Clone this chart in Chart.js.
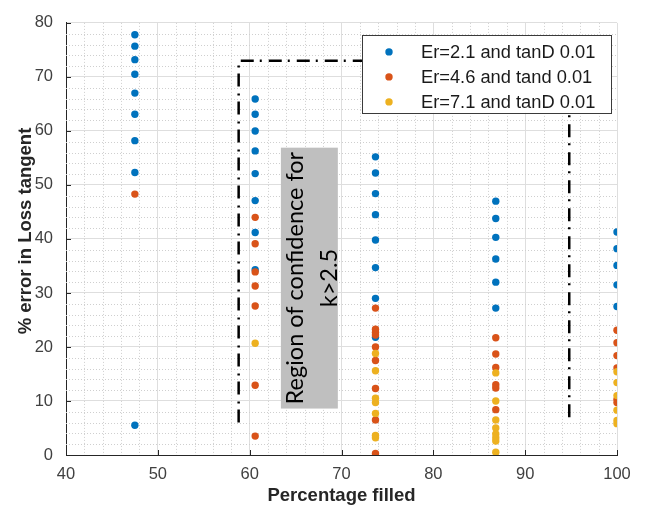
<!DOCTYPE html>
<html>
<head>
<meta charset="utf-8">
<script src="https://cdn.jsdelivr.net/npm/chart.js@4.4.0/dist/chart.umd.min.js"></script>
<style>
  html, body { margin: 0; padding: 0; background: #ffffff; }
  #wrap { width: 645px; height: 510px; }
</style>
</head>
<body>
<div id="wrap"><canvas id="c" width="645" height="510"></canvas></div>
<script>
// Fill levels (%) at which the loss-tangent error was evaluated
const fillPercent = [47.5, 60.6, 73.7, 86.8, 100];

// % error in loss tangent, one list per fill level
const errEr21 = [
  [77.8, 75.7, 73.2, 70.5, 67.0, 63.1, 58.2, 52.3, 5.5],
  [65.9, 63.1, 60.0, 56.3, 52.1, 47.1, 41.2, 34.3],
  [55.2, 52.2, 48.4, 44.5, 39.8, 34.7, 29.0, 21.8],
  [47.0, 43.8, 40.3, 36.3, 32.0, 27.2],
  [41.3, 38.2, 35.1, 31.5, 27.5]
];
const errEr46 = [
  [48.3],
  [44.0, 39.1, 33.9, 31.3, 27.6, 12.9, 3.5],
  [27.2, 23.3, 22.7, 22.2, 20.0, 17.5, 12.3, 6.5, 0.3],
  [21.7, 18.7, 16.2, 13.0, 12.4, 8.4],
  [23.1, 20.8, 18.4, 16.1, 10.3, 9.7]
];
const errEr71 = [
  [],
  [20.7],
  [18.8, 15.6, 10.5, 9.7, 7.7, 3.6, 3.2],
  [15.2, 10.0, 6.5, 5.0, 3.9, 3.2, 2.6, 0.5],
  [15.4, 13.4, 11.0, 8.3, 6.4, 5.8]
];

const seriesLabels = ['Er=2.1 and tanD 0.01', 'Er=4.6 and tand 0.01', 'Er=7.1 and tanD 0.01'];
const seriesColors = ['#0072BD', '#D95319', '#EDB120'];

// Axis ranges and tick spacing
const xRange = [40, 100];
const yRange = [0, 80];
const majorStep = 10;
const minorStep = 2;

// Dash-dot outline of the k>2.5 confidence region (data units)
const regionX = [58.8, 58.8, 94.8, 94.8];
const regionY = [6.0, 73.0, 73.0, 6.0];

// Grey note box (data units) and its text
const noteBox = { x0: 63.4, x1: 69.6, y0: 8.6, y1: 56.9 };
const noteLines = ['Region of confidence for', 'k>2.5'];

const axisTitleX = 'Percentage filled';
const axisTitleY = '% error in Loss tangent';

function toPoints(levels, values) {
  const pts = [];
  levels.forEach((lv, i) => values[i].forEach(v => pts.push({ x: lv, y: v })));
  return pts;
}

const AXIS_COLOR = '#262626';
const TICK_TEXT = '#404040';
const FONT = '"Liberation Sans", Arial, sans-serif';

const decorPlugin = {
  id: 'decor',
  beforeDatasetsDraw(chart) {
    const { ctx, chartArea: a, scales: { x, y } } = chart;
    ctx.save();
    // minor grid (dotted)
    ctx.strokeStyle = '#cfcfcf';
    ctx.lineWidth = 1;
    ctx.setLineDash([1, 2]);
    for (let v = xRange[0]; v <= xRange[1]; v += minorStep) {
      if (v % majorStep === 0) continue;
      const px = Math.round(x.getPixelForValue(v)) + 0.5;
      ctx.beginPath(); ctx.moveTo(px, a.top); ctx.lineTo(px, a.bottom); ctx.stroke();
    }
    for (let v = yRange[0]; v <= yRange[1]; v += minorStep) {
      if (v % majorStep === 0) continue;
      const py = Math.round(y.getPixelForValue(v)) + 0.5;
      ctx.beginPath(); ctx.moveTo(a.left, py); ctx.lineTo(a.right, py); ctx.stroke();
    }
    ctx.setLineDash([]);

    // inward tick marks
    ctx.strokeStyle = AXIS_COLOR;
    ctx.lineWidth = 1;
    for (let v = xRange[0]; v <= xRange[1]; v += majorStep) {
      const px = Math.round(x.getPixelForValue(v)) + 0.5;
      ctx.beginPath(); ctx.moveTo(px, a.bottom); ctx.lineTo(px, a.bottom - 5); ctx.stroke();
    }
    for (let v = yRange[0]; v <= yRange[1]; v += majorStep) {
      const py = Math.round(y.getPixelForValue(v)) + 0.5;
      ctx.beginPath(); ctx.moveTo(a.left, py); ctx.lineTo(a.left + 5, py); ctx.stroke();
    }

    // grey note box with rotated text
    const bx0 = x.getPixelForValue(noteBox.x0), bx1 = x.getPixelForValue(noteBox.x1);
    const by0 = y.getPixelForValue(noteBox.y1), by1 = y.getPixelForValue(noteBox.y0);
    ctx.fillStyle = '#bfbfbf';
    ctx.fillRect(bx0, by0, bx1 - bx0, by1 - by0);
    ctx.fillStyle = '#000000';
    ctx.font = '23.5px Lato, "Open Sans", sans-serif';
    ctx.textAlign = 'center';
    ctx.textBaseline = 'alphabetic';
    const cy = (by0 + by1) / 2;
    const baselines = [bx0 + 22, bx0 + 56];
    noteLines.forEach((t, i) => {
      ctx.save();
      ctx.translate(baselines[i], cy);
      ctx.rotate(-Math.PI / 2);
      ctx.fillText(t, 0, 0);
      ctx.restore();
    });
    ctx.restore();
  },
  afterDatasetsDraw(chart) {
    const { ctx, chartArea: a } = chart;
    ctx.save();
    // legend box
    const lx = a.right - 255, ly = a.top + 12, lw = 249, lh = 78;
    ctx.fillStyle = '#ffffff';
    ctx.fillRect(lx, ly, lw, lh);
    ctx.strokeStyle = '#3a3a3a';
    ctx.lineWidth = 1;
    ctx.strokeRect(Math.round(lx) + 0.5, Math.round(ly) + 0.5, lw, lh);
    ctx.font = '18.3px ' + FONT;
    ctx.textAlign = 'left';
    ctx.textBaseline = 'middle';
    seriesLabels.forEach((lab, i) => {
      const ry = ly + 17 + i * 25;
      ctx.fillStyle = seriesColors[i];
      ctx.beginPath(); ctx.arc(lx + 27, ry, 3.7, 0, Math.PI * 2); ctx.fill();
      ctx.fillStyle = '#1a1a1a';
      ctx.fillText(lab, lx + 59, ry + 1);
    });
    ctx.restore();
  },
  afterDraw(chart) {
    const { ctx, chartArea: a } = chart;
    ctx.save();
    ctx.fillStyle = AXIS_COLOR;
    ctx.font = 'bold 18.5px ' + FONT;
    ctx.textAlign = 'center';
    ctx.textBaseline = 'middle';
    ctx.fillText(axisTitleX, (a.left + a.right) / 2, 496);
    ctx.translate(26, 231);
    ctx.rotate(-Math.PI / 2);
    ctx.fillText(axisTitleY, 0, 0);
    ctx.restore();
  }
};

const scatterDefaults = { pointRadius: 3.7, pointHoverRadius: 3.7, borderWidth: 0, showLine: false };

new Chart(document.getElementById('c'), {
  type: 'scatter',
  data: {
    datasets: [
      { label: seriesLabels[0], data: toPoints(fillPercent, errEr21), backgroundColor: seriesColors[0], borderColor: seriesColors[0], order: 3, ...scatterDefaults },
      { label: seriesLabels[1], data: toPoints(fillPercent, errEr46), backgroundColor: seriesColors[1], borderColor: seriesColors[1], order: 2, ...scatterDefaults },
      { label: seriesLabels[2], data: toPoints(fillPercent, errEr71), backgroundColor: seriesColors[2], borderColor: seriesColors[2], order: 1, ...scatterDefaults },
      {
        label: 'region',
        data: regionX.map((xv, i) => ({ x: xv, y: regionY[i] })),
        showLine: true, pointRadius: 0, borderColor: '#000000', borderWidth: 2.5,
        borderDash: [13, 6, 2, 7], fill: false, tension: 0, order: 4
      }
    ]
  },
  options: {
    responsive: false,
    animation: false,
    devicePixelRatio: 1,
    layout: { padding: { left: 0, top: 15, right: 28, bottom: 0 } },
    plugins: { legend: { display: false }, tooltip: { enabled: false } },
    events: [],
    scales: {
      x: {
        type: 'linear', min: xRange[0], max: xRange[1],
        ticks: { stepSize: majorStep, color: TICK_TEXT, font: { size: 16.5, family: FONT }, padding: 10, maxRotation: 0 },
        grid: { color: '#dedede', drawTicks: false, lineWidth: 1 },
        border: { color: AXIS_COLOR, width: 1 },
        afterFit(s) { s.height = 55; }
      },
      y: {
        type: 'linear', min: yRange[0], max: yRange[1],
        ticks: { stepSize: majorStep, color: TICK_TEXT, font: { size: 16.5, family: FONT }, padding: 13 },
        grid: { color: '#dedede', drawTicks: false, lineWidth: 1 },
        border: { color: AXIS_COLOR, width: 1 },
        afterFit(s) { s.width = 66; }
      }
    }
  },
  plugins: [decorPlugin]
});
</script>
</body>
</html>
